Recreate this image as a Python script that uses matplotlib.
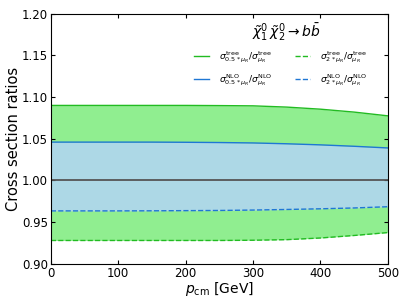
import matplotlib
matplotlib.use("Agg")
import matplotlib.pyplot as plt

p_cm = [0, 50, 100, 150, 200, 250, 300, 350, 400, 450, 500]
tree_up = [1.090, 1.090, 1.090, 1.090, 1.090, 1.0898, 1.0895, 1.088, 1.0855, 1.082, 1.0775]
tree_dn = [0.928, 0.928, 0.928, 0.928, 0.928, 0.928, 0.9283, 0.929, 0.931, 0.934, 0.9375]
nlo_up = [1.046, 1.046, 1.046, 1.046, 1.0458, 1.0455, 1.045, 1.044, 1.0427, 1.041, 1.039]
nlo_dn = [0.9635, 0.9635, 0.9635, 0.9636, 0.9638, 0.964, 0.9645, 0.9652, 0.966, 0.967, 0.9685]

fig = plt.figure(figsize=(4.07, 3.05), dpi=100)
ax = fig.add_axes([0.125, 0.135, 0.828, 0.82])

ax.fill_between(p_cm, tree_dn, tree_up, color="lightgreen", lw=0)
ax.fill_between(p_cm, nlo_dn, nlo_up, color="lightblue", lw=0)
l1, = ax.plot(p_cm, tree_up, color="#22bb22", lw=1)
l2, = ax.plot(p_cm, nlo_up, color="#1f77d4", lw=1)
l3, = ax.plot(p_cm, tree_dn, color="#22bb22", lw=1, ls="--")
l4, = ax.plot(p_cm, nlo_dn, color="#1f77d4", lw=1, ls="--")
ax.axhline(1.0, color="#555555", lw=1.3)

ax.set_xlim(0, 500)
ax.set_ylim(0.90, 1.20)
ax.set_yticks([0.90, 0.95, 1.00, 1.05, 1.10, 1.15, 1.20])
ax.set_yticklabels(["0.90", "0.95", "1.00", "1.05", "1.10", "1.15", "1.20"])
ax.set_xticks([0, 100, 200, 300, 400, 500])
ax.tick_params(direction="in", top=True, right=True, labelsize=8.5, length=3, pad=2)
ax.set_xlabel(r"$p_{\rm cm}$ [GeV]", fontsize=10, labelpad=0)
ax.set_ylabel("Cross section ratios", fontsize=10.5, labelpad=1)

ax.text(0.70, 0.925, r"$\tilde{\chi}_1^0\,\tilde{\chi}_2^0 \rightarrow b\bar{b}$",
        transform=ax.transAxes, ha="center", va="center", fontsize=10)

leg = ax.legend([l1, l2, l3, l4],
                [r"$\sigma^{\rm tree}_{0.5*\mu_R}/\sigma^{\rm tree}_{\mu_R}$",
                 r"$\sigma^{\rm NLO}_{0.5*\mu_R}/\sigma^{\rm NLO}_{\mu_R}$",
                 r"$\sigma^{\rm tree}_{2*\mu_R}/\sigma^{\rm tree}_{\mu_R}$",
                 r"$\sigma^{\rm NLO}_{2*\mu_R}/\sigma^{\rm NLO}_{\mu_R}$"],
                ncol=2, frameon=False, fontsize=6.6, loc="upper right",
                bbox_to_anchor=(0.965, 0.89), handlelength=1.65, columnspacing=2.5,
                labelspacing=0.75, handletextpad=1.1)

fig.savefig("out.png", dpi=100)
